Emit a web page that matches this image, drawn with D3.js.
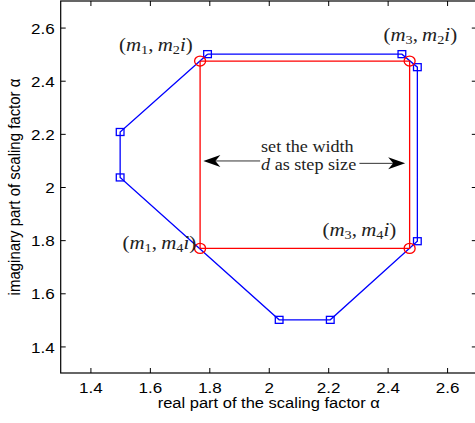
<!DOCTYPE html>
<html>
<head>
<meta charset="utf-8">
<script src="https://cdn.jsdelivr.net/npm/d3@7"></script>
<style>
  body { margin: 0; background: #fff; }
  svg { display: block; }
</style>
</head>
<body>
<svg id="chart" width="475" height="423"></svg>
<script>
// Outer octagon (blue): vertices in order, closed back to the first one
const octagonRe = [1.794, 2.448, 2.5, 2.5, 2.207, 2.035, 1.5, 1.5];
const octagonIm = [2.5, 2.5, 2.451, 1.796, 1.5, 1.5, 2.036, 2.207];

// Inscribed rectangle (red): corners (m1,m2i) (m3,m2i) (m3,m4i) (m1,m4i)
const rectRe = [1.769, 2.474, 2.474, 1.769];
const rectIm = [2.474, 2.474, 1.769, 1.769];

// Corner annotations: anchor point and subscripts of the two m's
const cornerLabelRe = [1.744, 2.386, 1.508, 2.181];
const cornerLabelIm = [2.512, 2.549, 1.766, 1.815];
const cornerLabelSubA = ["1", "3", "1", "3"];
const cornerLabelSubB = ["2", "2", "4", "4"];
const cornerLabelAnchor = ["end", "start", "start", "start"];

// Step-size annotation: two arrows and a two-line note
const arrowTailRe = [1.971, 2.305];
const arrowTipRe = [1.780, 2.459];
const arrowIm = [2.098, 2.089];
const noteRe = 1.974;
const noteIm = [2.133, 2.064];

const xTicks = [1.4, 1.6, 1.8, 2, 2.2, 2.4, 2.6];
const yTicks = [1.4, 1.6, 1.8, 2, 2.2, 2.4, 2.6];
const xDomain = [1.3, 2.7];
const yDomain = [1.3, 2.7];

const W = 475, H = 423;
const margin = { left: 60.7, top: 1, right: -1.8, bottom: 50 };
const plotW = W - margin.left - margin.right;
const plotH = H - margin.top - margin.bottom;
const SX = 1.1; // horizontal stretch applied to text

const svg = d3.select("#chart");
const g = svg.append("g").attr("transform", `translate(${margin.left},${margin.top})`);

const x = d3.scaleLinear().domain(xDomain).range([0, plotW]);
const y = d3.scaleLinear().domain(yDomain).range([plotH, 0]);

const sans = "'Liberation Sans', Arial, Helvetica, sans-serif";
const serif = "'Liberation Serif', 'Times New Roman', serif";

// Place a text element at (px,py) with a horizontal stretch around its anchor
function place(sel, px, py) {
  return sel.attr("transform", `translate(${px},${py}) scale(${SX},1)`);
}

// Axes: ticks pointing inward on all four sides
const tickLen = 5;
const axisBottom = d3.axisBottom(x).tickValues(xTicks).tickSizeInner(-tickLen).tickSizeOuter(0).tickFormat(d3.format("~g"));
const axisTop = d3.axisTop(x).tickValues(xTicks).tickSizeInner(-tickLen).tickSizeOuter(0).tickFormat("");
const axisLeft = d3.axisLeft(y).tickValues(yTicks).tickSizeInner(-tickLen).tickSizeOuter(0).tickFormat(d3.format("~g"));
const axisRight = d3.axisRight(y).tickValues(yTicks).tickSizeInner(-tickLen).tickSizeOuter(0).tickFormat("");

function styleAxis(a) {
  a.select(".domain").remove();
  a.selectAll(".tick line").attr("stroke", "#000").attr("stroke-width", 1);
}

const gb = g.append("g").attr("transform", `translate(0,${plotH})`).call(axisBottom);
styleAxis(gb);
gb.selectAll(".tick text").each(function () {
  const t = d3.select(this);
  t.attr("y", null).attr("dy", null);
  place(t, 0, 20).attr("font-family", sans).attr("font-size", 15.5).attr("fill", "#000");
});

const gl = g.append("g").call(axisLeft);
styleAxis(gl);
gl.selectAll(".tick text").each(function () {
  const t = d3.select(this);
  t.attr("x", null).attr("dy", "0.36em");
  place(t, -6, 0).attr("font-family", sans).attr("font-size", 15.5).attr("fill", "#000").attr("text-anchor", "end");
});

const gt = g.append("g").call(axisTop);
styleAxis(gt);
const gr = g.append("g").attr("transform", `translate(${plotW},0)`).call(axisRight);
styleAxis(gr);

// Frame
g.append("rect")
  .attr("x", 0).attr("y", 0).attr("width", plotW).attr("height", plotH)
  .attr("fill", "none").attr("stroke", "#000").attr("stroke-width", 1.2);

// Blue octagon
const octPts = octagonRe.map((v, i) => [x(v), y(octagonIm[i])]);
g.append("path")
  .attr("d", d3.line()(octPts.concat([octPts[0]])))
  .attr("fill", "none").attr("stroke", "#0000ff").attr("stroke-width", 1.3);
const sq = 7;
g.selectAll("rect.vertex").data(octPts).enter().append("rect")
  .attr("class", "vertex")
  .attr("x", d => d[0] - sq * SX / 2).attr("y", d => d[1] - sq / 2)
  .attr("width", sq * SX).attr("height", sq)
  .attr("fill", "none").attr("stroke", "#0000ff").attr("stroke-width", 1.3);

// Red rectangle
const rectPts = rectRe.map((v, i) => [x(v), y(rectIm[i])]);
g.append("path")
  .attr("d", d3.line()(rectPts.concat([rectPts[0]])))
  .attr("fill", "none").attr("stroke", "#ff0000").attr("stroke-width", 1.3);
g.selectAll("ellipse.corner").data(rectPts).enter().append("ellipse")
  .attr("class", "corner")
  .attr("cx", d => d[0]).attr("cy", d => d[1])
  .attr("rx", 5 * SX).attr("ry", 5)
  .attr("fill", "none").attr("stroke", "#ff0000").attr("stroke-width", 1.3);

// Corner labels (m_a, m_b i)
cornerLabelRe.forEach((re, i) => {
  const t = g.append("text")
    .attr("font-family", serif).attr("font-size", 19).attr("fill", "#222")
    .attr("text-anchor", cornerLabelAnchor[i]);
  place(t, x(re), y(cornerLabelIm[i]));
  t.append("tspan").text("(");
  t.append("tspan").attr("font-style", "italic").text("m");
  t.append("tspan").attr("font-size", 13).attr("dy", 3).text(cornerLabelSubA[i]);
  t.append("tspan").attr("dy", -3).text(",\u2009");
  t.append("tspan").attr("font-style", "italic").text("m");
  t.append("tspan").attr("font-size", 13).attr("dy", 3).text(cornerLabelSubB[i]);
  t.append("tspan").attr("font-style", "italic").attr("dy", -3).text("i");
  t.append("tspan").text(")");
});

// Step-size arrows
function arrowHead(tipX, tipY, dir) {
  const L = 17, Wd = 6, notch = 12;
  const p = [[tipX, tipY], [tipX - dir * L, tipY - Wd], [tipX - dir * notch, tipY], [tipX - dir * L, tipY + Wd]];
  return "M" + p.map(q => q.join(",")).join("L") + "Z";
}
arrowTailRe.forEach((tail, i) => {
  const x0 = x(tail), x1 = x(arrowTipRe[i]), yy = y(arrowIm[i]);
  const dir = x1 > x0 ? 1 : -1;
  g.append("line")
    .attr("x1", x0).attr("y1", yy).attr("x2", x1 - dir * 10).attr("y2", yy)
    .attr("stroke", "#333").attr("stroke-width", 1);
  g.append("path").attr("d", arrowHead(x1, yy, dir)).attr("fill", "#000");
});

const n1 = g.append("text").attr("font-family", serif).attr("font-size", 16.5).attr("fill", "#222");
place(n1, x(noteRe), y(noteIm[0]));
n1.text("set the width");
const n2 = g.append("text").attr("font-family", serif).attr("font-size", 16.5).attr("fill", "#222");
place(n2, x(noteRe), y(noteIm[1]));
n2.append("tspan").attr("font-style", "italic").text("d");
n2.append("tspan").text(" as step size");

// Axis titles
const xl = svg.append("text")
  .attr("font-family", sans).attr("font-size", 15).attr("fill", "#000").attr("text-anchor", "middle")
  .text("real part of the scaling factor \u03b1");
place(xl, margin.left + x(2.0), 408);

svg.append("text")
  .attr("font-family", sans).attr("font-size", 15).attr("fill", "#000").attr("text-anchor", "middle")
  .attr("transform", `translate(20,${margin.top + plotH / 2}) rotate(-90) scale(1,${SX})`)
  .text("imaginary part of scaling factor \u03b1");
</script>
</body>
</html>
